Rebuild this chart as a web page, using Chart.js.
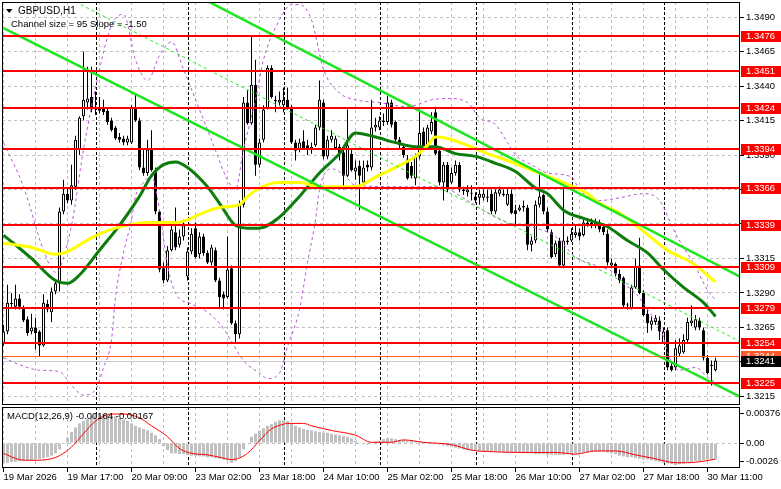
<!DOCTYPE html>
<html>
<head>
<meta charset="utf-8">
<title>GBPUSD H1</title>
<script src="https://cdn.jsdelivr.net/npm/chart.js@4.4.1/dist/chart.umd.min.js"></script>
<style>
  html, body { margin: 0; padding: 0; background: #fff; }
  #wrap { position: relative; width: 781px; height: 489px; overflow: hidden; background: #fff; }
  canvas { position: absolute; left: 0; }
  #main { top: 0; }
  #macd { top: 406px; }
</style>
</head>
<body>
<div id="wrap">
  <canvas id="main" width="781" height="406"></canvas>
  <canvas id="macd" width="781" height="83"></canvas>
</div>
<script>
// H1 candles, bar 0 = first bar on the left
const opens = [
  1.3254, 1.3262, 1.3282, 1.3280, 1.3286, 1.3279, 1.3271, 1.3262, 1.3265, 1.3262,
  1.3252, 1.3282, 1.3276, 1.3291, 1.3297, 1.3349, 1.3362, 1.3357, 1.3367, 1.3394,
  1.3418, 1.3428, 1.3432, 1.3425, 1.3424, 1.3424, 1.3422, 1.3415, 1.3410, 1.3403,
  1.3402, 1.3399, 1.3399, 1.3425, 1.3415, 1.3381, 1.3377, 1.3394, 1.3379, 1.3349,
  1.3308, 1.3299, 1.3321, 1.3334, 1.3325, 1.3331, 1.3302, 1.3320, 1.3337, 1.3318,
  1.3331, 1.3319, 1.3312, 1.3321, 1.3299, 1.3289, 1.3287, 1.3308, 1.3268, 1.3260,
  1.3354, 1.3428, 1.3413, 1.3441, 1.3383, 1.3401, 1.3424, 1.3453, 1.3430, 1.3428,
  1.3426, 1.3430, 1.3425, 1.3399, 1.3394, 1.3400, 1.3397, 1.3394, 1.3397, 1.3410,
  1.3428, 1.3389, 1.3401, 1.3395, 1.3396, 1.3392, 1.3375, 1.3391, 1.3378, 1.3382,
  1.3370, 1.3383, 1.3381, 1.3410, 1.3410, 1.3414, 1.3414, 1.3428, 1.3414, 1.3401,
  1.3396, 1.3387, 1.3382, 1.3373, 1.3389, 1.3407, 1.3395, 1.3407, 1.3421, 1.3393,
  1.3370, 1.3383, 1.3370, 1.3377, 1.3383, 1.3365, 1.3363, 1.3362, 1.3360, 1.3359,
  1.3359, 1.3359, 1.3362, 1.3349, 1.3362, 1.3362, 1.3354, 1.3362, 1.3350, 1.3350,
  1.3352, 1.3352, 1.3325, 1.3328, 1.3354, 1.3361, 1.3349, 1.3334, 1.3318, 1.3328,
  1.3310, 1.3327, 1.3328, 1.3332, 1.3334, 1.3332, 1.3340, 1.3341, 1.3339, 1.3341,
  1.3338, 1.3333, 1.3310, 1.3311, 1.3304, 1.3301, 1.3281, 1.3279, 1.3294, 1.3310,
  1.3290, 1.3275, 1.3267, 1.3269, 1.3270, 1.3254, 1.3263, 1.3237, 1.3236, 1.3246,
  1.3247, 1.3256, 1.3268, 1.3265, 1.3270, 1.3263, 1.3243, 1.3237, 1.3234
];
const highs = [
  1.3267, 1.3296, 1.3290, 1.3296, 1.3289, 1.3281, 1.3273, 1.3275, 1.3272, 1.3263,
  1.3289, 1.3285, 1.3294, 1.3299, 1.3352, 1.3372, 1.3366, 1.3383, 1.3404, 1.3418,
  1.3465, 1.3454, 1.3454, 1.3436, 1.3432, 1.3430, 1.3424, 1.3417, 1.3411, 1.3406,
  1.3404, 1.3404, 1.3426, 1.3435, 1.3417, 1.3395, 1.3401, 1.3408, 1.3381, 1.3350,
  1.3312, 1.3324, 1.3341, 1.3352, 1.3336, 1.3343, 1.3323, 1.3337, 1.3341, 1.3334,
  1.3333, 1.3321, 1.3325, 1.3323, 1.3301, 1.3291, 1.3331, 1.3310, 1.3270, 1.3357,
  1.3432, 1.3437, 1.3477, 1.3459, 1.3402, 1.3426, 1.3455, 1.3455, 1.3433, 1.3436,
  1.3439, 1.3439, 1.3426, 1.3401, 1.3402, 1.3408, 1.3401, 1.3399, 1.3412, 1.3444,
  1.3430, 1.3404, 1.3408, 1.3404, 1.3398, 1.3394, 1.3423, 1.3394, 1.3386, 1.3386,
  1.3386, 1.3386, 1.3430, 1.3417, 1.3418, 1.3420, 1.3433, 1.3430, 1.3415, 1.3403,
  1.3398, 1.3390, 1.3385, 1.3391, 1.3423, 1.3410, 1.3412, 1.3421, 1.3425, 1.3395,
  1.3385, 1.3385, 1.3381, 1.3386, 1.3385, 1.3367, 1.3368, 1.3368, 1.3363, 1.3365,
  1.3365, 1.3365, 1.3365, 1.3365, 1.3367, 1.3365, 1.3365, 1.3365, 1.3354, 1.3354,
  1.3357, 1.3354, 1.3331, 1.3357, 1.3377, 1.3362, 1.3352, 1.3336, 1.3328, 1.3330,
  1.3366, 1.3331, 1.3337, 1.3339, 1.3337, 1.3343, 1.3344, 1.3344, 1.3344, 1.3343,
  1.3340, 1.3336, 1.3315, 1.3312, 1.3307, 1.3302, 1.3283, 1.3296, 1.3315, 1.3330,
  1.3292, 1.3278, 1.3273, 1.3274, 1.3273, 1.3265, 1.3265, 1.3240, 1.3256, 1.3257,
  1.3260, 1.3272, 1.3281, 1.3274, 1.3272, 1.3265, 1.3245, 1.3241, 1.3243
];
const lows = [
  1.3252, 1.3260, 1.3280, 1.3278, 1.3278, 1.3269, 1.3259, 1.3260, 1.3249, 1.3244,
  1.3251, 1.3276, 1.3269, 1.3289, 1.3291, 1.3347, 1.3355, 1.3354, 1.3365, 1.3390,
  1.3415, 1.3423, 1.3421, 1.3419, 1.3420, 1.3419, 1.3412, 1.3407, 1.3401, 1.3399,
  1.3397, 1.3397, 1.3398, 1.3414, 1.3379, 1.3375, 1.3375, 1.3378, 1.3347, 1.3305,
  1.3297, 1.3298, 1.3320, 1.3321, 1.3323, 1.3328, 1.3299, 1.3318, 1.3315, 1.3315,
  1.3317, 1.3311, 1.3310, 1.3298, 1.3279, 1.3278, 1.3286, 1.3267, 1.3254, 1.3257,
  1.3352, 1.3412, 1.3412, 1.3375, 1.3381, 1.3399, 1.3423, 1.3431, 1.3421, 1.3426,
  1.3421, 1.3423, 1.3398, 1.3386, 1.3392, 1.3394, 1.3390, 1.3391, 1.3396, 1.3408,
  1.3387, 1.3387, 1.3399, 1.3394, 1.3386, 1.3365, 1.3374, 1.3378, 1.3372, 1.3350,
  1.3368, 1.3378, 1.3379, 1.3407, 1.3408, 1.3411, 1.3412, 1.3410, 1.3399, 1.3395,
  1.3388, 1.3372, 1.3373, 1.3368, 1.3387, 1.3394, 1.3394, 1.3405, 1.3390, 1.3368,
  1.3357, 1.3363, 1.3369, 1.3375, 1.3363, 1.3361, 1.3360, 1.3357, 1.3355, 1.3354,
  1.3357, 1.3356, 1.3347, 1.3347, 1.3360, 1.3360, 1.3353, 1.3347, 1.3339, 1.3349,
  1.3349, 1.3321, 1.3320, 1.3326, 1.3352, 1.3347, 1.3334, 1.3315, 1.3316, 1.3309,
  1.3308, 1.3325, 1.3327, 1.3330, 1.3328, 1.3331, 1.3338, 1.3337, 1.3337, 1.3334,
  1.3332, 1.3310, 1.3309, 1.3302, 1.3297, 1.3279, 1.3278, 1.3278, 1.3293, 1.3289,
  1.3273, 1.3261, 1.3263, 1.3267, 1.3256, 1.3253, 1.3234, 1.3233, 1.3234, 1.3244,
  1.3246, 1.3254, 1.3266, 1.3263, 1.3263, 1.3241, 1.3231, 1.3223, 1.3233
];
const closes = [
  1.3262, 1.3283, 1.3282, 1.3286, 1.3280, 1.3270, 1.3261, 1.3265, 1.3261, 1.3252,
  1.3283, 1.3278, 1.3291, 1.3297, 1.3349, 1.3362, 1.3357, 1.3368, 1.3401, 1.3417,
  1.3430, 1.3431, 1.3423, 1.3423, 1.3422, 1.3421, 1.3414, 1.3408, 1.3402, 1.3401,
  1.3399, 1.3402, 1.3424, 1.3415, 1.3381, 1.3377, 1.3394, 1.3379, 1.3349, 1.3307,
  1.3299, 1.3321, 1.3336, 1.3323, 1.3331, 1.3339, 1.3320, 1.3333, 1.3316, 1.3331,
  1.3319, 1.3312, 1.3323, 1.3299, 1.3287, 1.3286, 1.3307, 1.3268, 1.3260, 1.3354,
  1.3428, 1.3413, 1.3441, 1.3383, 1.3399, 1.3423, 1.3453, 1.3432, 1.3429, 1.3430,
  1.3430, 1.3424, 1.3399, 1.3393, 1.3399, 1.3395, 1.3394, 1.3396, 1.3410, 1.3430,
  1.3389, 1.3401, 1.3404, 1.3402, 1.3391, 1.3375, 1.3397, 1.3379, 1.3381, 1.3375,
  1.3381, 1.3381, 1.3410, 1.3412, 1.3415, 1.3415, 1.3428, 1.3412, 1.3401, 1.3397,
  1.3390, 1.3373, 1.3375, 1.3389, 1.3406, 1.3395, 1.3410, 1.3414, 1.3391, 1.3370,
  1.3383, 1.3365, 1.3377, 1.3383, 1.3365, 1.3364, 1.3365, 1.3362, 1.3357, 1.3362,
  1.3362, 1.3360, 1.3349, 1.3363, 1.3365, 1.3361, 1.3362, 1.3348, 1.3347, 1.3352,
  1.3353, 1.3325, 1.3328, 1.3354, 1.3360, 1.3349, 1.3336, 1.3316, 1.3326, 1.3310,
  1.3328, 1.3328, 1.3333, 1.3334, 1.3331, 1.3341, 1.3341, 1.3339, 1.3341, 1.3336,
  1.3334, 1.3312, 1.3312, 1.3304, 1.3299, 1.3281, 1.3281, 1.3294, 1.3309, 1.3290,
  1.3274, 1.3268, 1.3270, 1.3272, 1.3262, 1.3262, 1.3236, 1.3234, 1.3250, 1.3252,
  1.3256, 1.3269, 1.3270, 1.3271, 1.3265, 1.3243, 1.3232, 1.3237, 1.3241
];

// moving averages (bar index, price)
const fastMaBars = [0, 7, 13, 16, 19, 24, 29, 34, 37, 40, 43, 46, 51, 54, 58, 61, 64, 69, 74, 79, 84,
  88, 93, 98, 103, 108, 113, 118, 123, 128, 133, 136, 140, 145, 151, 156, 161, 165, 170, 175, 178];
const fastMa = [1.3332, 1.3315, 1.3299, 1.3297, 1.3303, 1.3321, 1.3339, 1.3360, 1.3375, 1.3383, 1.3385,
  1.3381, 1.3367, 1.3355, 1.3339, 1.3337, 1.3337, 1.3345, 1.3360, 1.3377, 1.3391, 1.3406, 1.3403,
  1.3399, 1.3396, 1.3396, 1.3391, 1.3389, 1.3384, 1.3378, 1.3366, 1.3362, 1.3350, 1.3344, 1.3338,
  1.3328, 1.3319, 1.3307, 1.3294, 1.3283, 1.3273];
const slowMaBars = [0, 7, 13, 16, 22, 28, 37, 43, 46, 49, 54, 59, 61, 64, 69, 74, 79, 84, 88, 93, 98,
  103, 106, 108, 111, 116, 121, 126, 133, 140, 146, 149, 154, 159, 166, 172, 178];
const slowMa = [1.3326, 1.3323, 1.3318, 1.3320, 1.3330, 1.3337, 1.3341, 1.3341, 1.3343, 1.3347, 1.3352,
  1.3354, 1.3360, 1.3366, 1.3370, 1.3370, 1.3367, 1.3367, 1.3367, 1.3374, 1.3381, 1.3389, 1.3397,
  1.3403, 1.3402, 1.3397, 1.3391, 1.3386, 1.3378, 1.3370, 1.3362, 1.3355, 1.3348, 1.3337, 1.3321,
  1.3312, 1.3298];

// envelope bands (dotted violet)
const bandUpBars = [0, 5, 10, 13, 17, 20, 24, 27, 30, 33, 36, 39, 42, 45, 49, 52, 56, 58, 60, 63, 65,
  69, 72, 74, 77, 80, 84, 88, 94, 101, 107, 111, 116, 119, 123, 126, 128, 132, 136, 142, 144, 149,
  154, 160, 164, 168, 173, 176, 178];
const bandUp = [1.3399, 1.3367, 1.3321, 1.3305, 1.3339, 1.3394, 1.3452, 1.3484, 1.3492, 1.3459, 1.3444,
  1.3462, 1.3472, 1.3452, 1.3423, 1.3401, 1.3372, 1.3365, 1.3394, 1.3430, 1.3459, 1.3488, 1.3499,
  1.3499, 1.3488, 1.3452, 1.3435, 1.3430, 1.3428, 1.3425, 1.3430, 1.3431, 1.3428, 1.3417, 1.3412,
  1.3399, 1.3390, 1.3383, 1.3377, 1.3374, 1.3365, 1.3357, 1.3359, 1.3362, 1.3357, 1.3333, 1.3309,
  1.3292, 1.3285];
const bandLowBars = [0, 4, 9, 14, 17, 20, 23, 25, 27, 28, 30, 32, 33, 35, 37, 39, 41, 43, 47, 50, 54,
  57, 59, 61, 64, 66, 69, 71, 74, 76, 78, 79, 82, 85, 88, 101, 109, 116, 121, 126, 133, 138, 143,
  148, 153, 155, 158, 161, 163, 165, 166, 169, 173, 176, 178];
const bandLow = [1.3243, 1.3238, 1.3234, 1.3233, 1.3223, 1.3216, 1.3220, 1.3236, 1.3256, 1.3287, 1.3319,
  1.3343, 1.3360, 1.3370, 1.3375, 1.3350, 1.3310, 1.3290, 1.3282, 1.3278, 1.3268, 1.3255, 1.3245,
  1.3238, 1.3232, 1.3228, 1.3232, 1.3251, 1.3278, 1.3312, 1.3343, 1.3365, 1.3380, 1.3376, 1.3368,
  1.3367, 1.3367, 1.3357, 1.3348, 1.3341, 1.3337, 1.3331, 1.3316, 1.3310, 1.3304, 1.3297, 1.3290,
  1.3278, 1.3270, 1.3258, 1.3247, 1.3234, 1.3236, 1.3229, 1.3225];

// regression channel end points
const channelLowBars = [0, 184];
const channelLow = [1.3482, 1.3215];
const channelHighBars = [51.4, 184];
const channelHigh = [1.3501, 1.3302];
const channelMidBars = [18, 184];
const channelMid = [1.3501, 1.3255];

// horizontal levels
const levels = [1.3476, 1.3451, 1.3424, 1.3394, 1.3366, 1.3339, 1.3309, 1.3279, 1.3254, 1.3225];
const alertLevel = 1.3244;
const bidLevel = 1.3241;

// MACD(12,26,9)
const macdHist = [
  -0.00205, -0.00205, -0.00197, -0.00197, -0.00189, -0.00189, -0.0018, -0.0018, -0.00172, -0.00164,
  -0.00156, -0.00148, -0.00131, -0.00107, -0.00066, -0.00008, 0.00057, 0.00115, 0.00164, 0.00205,
  0.0023, 0.00254, 0.00279, 0.00303, 0.00303, 0.00303, 0.00303, 0.00287, 0.00279, 0.00262,
  0.00246, 0.0023, 0.00205, 0.0018, 0.00164, 0.00148, 0.00131, 0.00107, 0.00082, 0.00041,
  -0.00033, -0.00074, -0.00107, -0.00107, -0.00115, -0.00115, -0.00123, -0.00131, -0.00131, -0.00139,
  -0.00139, -0.00148, -0.00148, -0.00156, -0.00164, -0.00172, -0.0018, -0.00205, -0.00189, -0.00148,
  -0.00066, 0.0, 0.00066, 0.00098, 0.00131, 0.00156, 0.0018, 0.00197, 0.00221, 0.00238,
  0.00238, 0.0023, 0.00205, 0.0018, 0.00164, 0.00148, 0.00139, 0.00131, 0.00123, 0.00115,
  0.00107, 0.00107, 0.00098, 0.0009, 0.00082, 0.00074, 0.00066, 0.00049, 0.00025, 0.00008,
  -0.00008, -0.00016, 0.0, 0.00016, 0.00025, 0.00041, 0.00049, 0.00049, 0.00041, 0.00033,
  0.00033, 0.00025, 0.00025, 0.00016, 0.00016, 0.00008, 0.00002, -0.00002, -0.00008, -0.00016,
  -0.00025, -0.00033, -0.00041, -0.00049, -0.00057, -0.00066, -0.00074, -0.00074, -0.00082, -0.00082,
  -0.00082, -0.0009, -0.0009, -0.0009, -0.0009, -0.00098, -0.00098, -0.00098, -0.00098, -0.00098,
  -0.00107, -0.00107, -0.00107, -0.00115, -0.00115, -0.00115, -0.00123, -0.00123, -0.00123, -0.00123,
  -0.00123, -0.00115, -0.00115, -0.00107, -0.00107, -0.00098, -0.00098, -0.0009, -0.0009, -0.0009,
  -0.0009, -0.00098, -0.00107, -0.00115, -0.00131, -0.00139, -0.00148, -0.00148, -0.00156, -0.00164,
  -0.00172, -0.00172, -0.0018, -0.00189, -0.00197, -0.00205, -0.00213, -0.00221, -0.0023, -0.00221,
  -0.00213, -0.00197, -0.00197, -0.00189, -0.00189, -0.0018, -0.00172, -0.00168, -0.00164
];
const macdSignalBars = [0, 4, 7, 12, 14, 17, 20, 23, 27, 30, 34, 37, 41, 44, 47, 51, 54, 57, 61, 64, 67,
  70, 71, 75, 77, 82, 88, 92, 97, 100, 105, 112, 117, 122, 130, 138, 143, 148, 153, 158, 163, 168,
  171, 175, 178];
const macdSignal = [-0.00107, -0.00172, -0.0018, -0.00164, -0.00131, -0.00041, 0.00098, 0.0023, 0.00303,
  0.00303, 0.00262, 0.0018, 0.00066, -0.00057, -0.00107, -0.00123, -0.00148, -0.00172, -0.00107,
  0.00025, 0.00148, 0.00197, 0.00205, 0.00205, 0.0018, 0.00131, 0.00082, 0.00008, 0.00008, 0.00033,
  0.00008, -0.00016, -0.00074, -0.0009, -0.00098, -0.00098, -0.00115, -0.00082, -0.00082, -0.00123,
  -0.00164, -0.00205, -0.00205, -0.00189, -0.00167];

// axes
const priceTicks = [1.3215, 1.3240, 1.3265, 1.3290, 1.3315, 1.3340, 1.3365, 1.3390, 1.3415, 1.3440, 1.3465, 1.3490];
const gridBars = [0, 8, 16, 24, 32, 40, 48, 56, 64, 72, 80, 88, 96, 104, 112, 120, 128, 136, 144, 152, 160, 168, 176, 184];
const timeTickBars = [0, 16, 32, 48, 64, 80, 96, 112, 128, 144, 160, 176];
const timeTickLabels = ['19 Mar 2026', '19 Mar 17:00', '20 Mar 09:00', '23 Mar 02:00', '23 Mar 18:00',
  '24 Mar 10:00', '25 Mar 02:00', '25 Mar 18:00', '26 Mar 10:00', '27 Mar 02:00', '27 Mar 18:00', '30 Mar 11:00'];
const separators = [23, 46, 70, 94, 118, 142, 165];

const FONT = 'Liberation Sans';
const FS = 9.5;
const GRID = '#c0c0c0';
const X_MIN = -0.375, X_MAX = 184.125;

const barIdx = opens.map((_, i) => i);
const pts = (bars, vals) => bars.map((b, k) => ({ x: b, y: vals[k] }));

function curve(data, color, width, dash, order) {
  return {
    type: 'line', data, borderColor: color, borderWidth: width, borderDash: dash || [],
    pointRadius: 0, fill: false, tension: 0.4, cubicInterpolationMode: 'monotone', order
  };
}
function straight(data, color, width, dash, order) {
  return {
    type: 'line', data, borderColor: color, borderWidth: width, borderDash: dash || [],
    pointRadius: 0, fill: false, tension: 0, order
  };
}

// keep chart area where MetaTrader puts it: no label padding on the axes
function noPad(s) {
  s.paddingTop = 0; s.paddingBottom = 0; s.paddingLeft = 0; s.paddingRight = 0;
}

function drawSeparators(chart) {
  const { ctx, chartArea: a, scales: { x } } = chart;
  ctx.save();
  ctx.strokeStyle = '#000';
  ctx.lineWidth = 1;
  ctx.setLineDash([3, 2]);
  separators.forEach(b => {
    const px = Math.round(x.getPixelForValue(b)) + 0.5;
    ctx.beginPath();
    ctx.moveTo(px, a.top);
    ctx.lineTo(px, a.bottom);
    ctx.stroke();
  });
  ctx.restore();
}

function drawFrame(chart) {
  const { ctx, chartArea: a } = chart;
  ctx.save();
  ctx.strokeStyle = '#000';
  ctx.lineWidth = 1;
  ctx.strokeRect(Math.round(a.left) + 0.5, Math.round(a.top) + 0.5,
    Math.round(a.right - a.left) - 1, Math.round(a.bottom - a.top) - 1);
  ctx.restore();
}

function tag(ctx, y, text, bg) {
  const yy = Math.round(y);
  ctx.fillStyle = bg;
  ctx.fillRect(741, yy - 5, 40, 11);
  ctx.fillStyle = '#fff';
  ctx.fillText(text, 746, yy + 0.5);
}

const mainOverlay = {
  id: 'mainOverlay',
  beforeDatasetsDraw(chart) {
    const { ctx, chartArea: a, scales: { y } } = chart;
    drawSeparators(chart);
    ctx.save();
    const by = Math.round(y.getPixelForValue(bidLevel)) + 0.5;
    ctx.strokeStyle = '#c8c8c8';
    ctx.lineWidth = 1;
    ctx.beginPath(); ctx.moveTo(a.left, by); ctx.lineTo(a.right, by); ctx.stroke();
    ctx.restore();
  },
  afterDatasetsDraw(chart) {
    const { ctx, chartArea: a, scales: { y } } = chart;
    ctx.save();
    const oy = Math.round(y.getPixelForValue(alertLevel)) + 0.5;
    ctx.strokeStyle = '#ff5a28';
    ctx.lineWidth = 1;
    ctx.beginPath(); ctx.moveTo(a.left, oy); ctx.lineTo(a.right, oy); ctx.stroke();
    ctx.strokeStyle = '#ff0000';
    ctx.lineWidth = 2;
    levels.forEach(l => {
      const ly = Math.round(y.getPixelForValue(l));
      ctx.beginPath(); ctx.moveTo(a.left, ly); ctx.lineTo(a.right, ly); ctx.stroke();
    });
    ctx.restore();
  },
  afterDraw(chart) {
    const { ctx, scales: { y } } = chart;
    drawFrame(chart);
    ctx.save();
    ctx.font = FS + 'px "' + FONT + '"';
    ctx.textBaseline = 'middle';
    ctx.textAlign = 'left';
    levels.forEach(l => tag(ctx, y.getPixelForValue(l), l.toFixed(4), '#ff0000'));
    tag(ctx, y.getPixelForValue(alertLevel), alertLevel.toFixed(4), '#ff5a28');
    tag(ctx, y.getPixelForValue(bidLevel), bidLevel.toFixed(4), '#000000');
    // header
    ctx.fillStyle = '#000';
    ctx.beginPath();
    ctx.moveTo(6, 9); ctx.lineTo(12.5, 9); ctx.lineTo(9.25, 13); ctx.closePath();
    ctx.fill();
    ctx.font = '10px "' + FONT + '"';
    ctx.fillText('GBPUSD,H1', 18, 11);
    ctx.font = FS + 'px "' + FONT + '"';
    ctx.fillText('Channel size = 95 Slope = -1.50', 11, 24);
    ctx.restore();
  }
};

new Chart(document.getElementById('main'), {
  type: 'bar',
  data: {
    datasets: [
      straight(pts(channelLowBars, channelLow), '#1ee61e', 2.5, [], 1),
      straight(pts(channelHighBars, channelHigh), '#1ee61e', 2.5, [], 1),
      straight(pts(channelMidBars, channelMid), '#1ee61e', 1, [3, 3], 1),
      curve(pts(slowMaBars, slowMa), '#ffff00', 3, [], 2),
      curve(pts(fastMaBars, fastMa), '#0c7c0c', 3, [], 2),
      curve(pts(bandUpBars, bandUp), '#b855d8', 1, [3, 3], 3),
      curve(pts(bandLowBars, bandLow), '#b855d8', 1, [3, 3], 3),
      {
        type: 'bar', order: 4, grouped: false,
        data: barIdx.map(i => ({ x: i, y: [opens[i], closes[i]] })),
        backgroundColor: barIdx.map(i => closes[i] > opens[i] ? '#ffffff' : '#000000'),
        borderColor: '#000000', borderWidth: 1, borderSkipped: false,
        barThickness: 3, minBarLength: 1, inflateAmount: 0
      },
      {
        type: 'bar', order: 5, grouped: false,
        data: barIdx.map(i => ({ x: i, y: [lows[i], highs[i]] })),
        backgroundColor: '#000000', borderWidth: 0,
        barThickness: 1, minBarLength: 1, inflateAmount: 0
      }
    ]
  },
  options: {
    responsive: false,
    animation: false,
    devicePixelRatio: 1,
    events: [],
    layout: { padding: { left: 2, top: 2, right: 0, bottom: 1 } },
    plugins: { legend: { display: false }, tooltip: { enabled: false } },
    scales: {
      x: {
        type: 'linear', min: X_MIN, max: X_MAX, offset: false,
        afterBuildTicks: s => { s.ticks = gridBars.map(v => ({ value: v })); },
        afterFit: s => { s.height = 0; noPad(s); },
        ticks: { display: false },
        grid: { color: GRID, drawTicks: false, offset: false },
        border: { display: false, dash: [3, 3] }
      },
      y: {
        type: 'linear', position: 'right', min: 1.32088, max: 1.35009, beginAtZero: false,
        afterBuildTicks: s => { s.ticks = priceTicks.map(v => ({ value: v })); },
        afterFit: s => { s.width = 41; noPad(s); },
        ticks: {
          color: '#000', padding: 2, font: { family: FONT, size: FS },
          callback: v => Number(v).toFixed(4)
        },
        grid: { color: GRID, tickColor: '#000', tickLength: 4, drawTicks: true },
        border: { display: false, dash: [3, 3] }
      }
    }
  },
  plugins: [mainOverlay]
});

const MACD_MIN = -0.0026, MACD_MAX = 0.00376;

const macdOverlay = {
  id: 'macdOverlay',
  beforeDatasetsDraw(chart) { drawSeparators(chart); },
  afterDraw(chart) {
    const { ctx, chartArea: a, scales: { y } } = chart;
    drawFrame(chart);
    ctx.save();
    ctx.font = FS + 'px "' + FONT + '"';
    ctx.textBaseline = 'middle';
    ctx.textAlign = 'left';
    ctx.fillStyle = '#000';
    ctx.fillText('MACD(12,26,9) -0.00164 -0.00167', 7, 10);
    const marks = [
      { v: MACD_MAX, t: '0.00376', dy: 6 },
      { v: 0, t: '0.00', dy: 0 },
      { v: MACD_MIN, t: '-0.0026', dy: -7 }
    ];
    ctx.strokeStyle = '#000';
    ctx.lineWidth = 1;
    marks.forEach(m => {
      const py = Math.round(y.getPixelForValue(m.v)) + m.dy;
      ctx.beginPath(); ctx.moveTo(a.right, py + 0.5); ctx.lineTo(a.right + 4, py + 0.5); ctx.stroke();
      ctx.fillText(m.t, 746, py + 0.5);
    });
    ctx.restore();
  }
};

new Chart(document.getElementById('macd'), {
  type: 'bar',
  data: {
    datasets: [
      curve(pts(macdSignalBars, macdSignal), '#ff0000', 1, [], 1),
      {
        type: 'bar', order: 2, grouped: false,
        data: barIdx.map(i => ({ x: i, y: macdHist[i] })),
        backgroundColor: '#c0c0c0', borderWidth: 0, barThickness: 3, inflateAmount: 0
      }
    ]
  },
  options: {
    responsive: false,
    animation: false,
    devicePixelRatio: 1,
    events: [],
    layout: { padding: { left: 2, top: 1, right: 0, bottom: 0 } },
    plugins: { legend: { display: false }, tooltip: { enabled: false } },
    scales: {
      x: {
        type: 'linear', min: X_MIN, max: X_MAX, offset: false,
        afterBuildTicks: s => { s.ticks = gridBars.map(v => ({ value: v })); },
        afterFit: s => { s.height = 21; noPad(s); },
        ticks: {
          color: '#000', padding: 0, align: 'start', maxRotation: 0, autoSkip: false,
          font: { family: FONT, size: FS },
          callback: v => {
            const k = timeTickBars.indexOf(v);
            return k >= 0 ? timeTickLabels[k] : '';
          }
        },
        grid: {
          color: GRID, drawTicks: true, tickLength: 4, offset: false,
          tickColor: c => (c.tick && timeTickBars.indexOf(c.tick.value) >= 0) ? '#000' : 'rgba(0,0,0,0)'
        },
        border: { display: false, dash: [3, 3] }
      },
      y: {
        type: 'linear', position: 'right', min: MACD_MIN, max: MACD_MAX, beginAtZero: false,
        afterBuildTicks: s => { s.ticks = [{ value: 0 }]; },
        afterFit: s => { s.width = 41; noPad(s); },
        ticks: { display: false },
        grid: { color: GRID, drawTicks: false },
        border: { display: false, dash: [3, 3] }
      }
    }
  },
  plugins: [macdOverlay]
});
</script>
</body>
</html>
